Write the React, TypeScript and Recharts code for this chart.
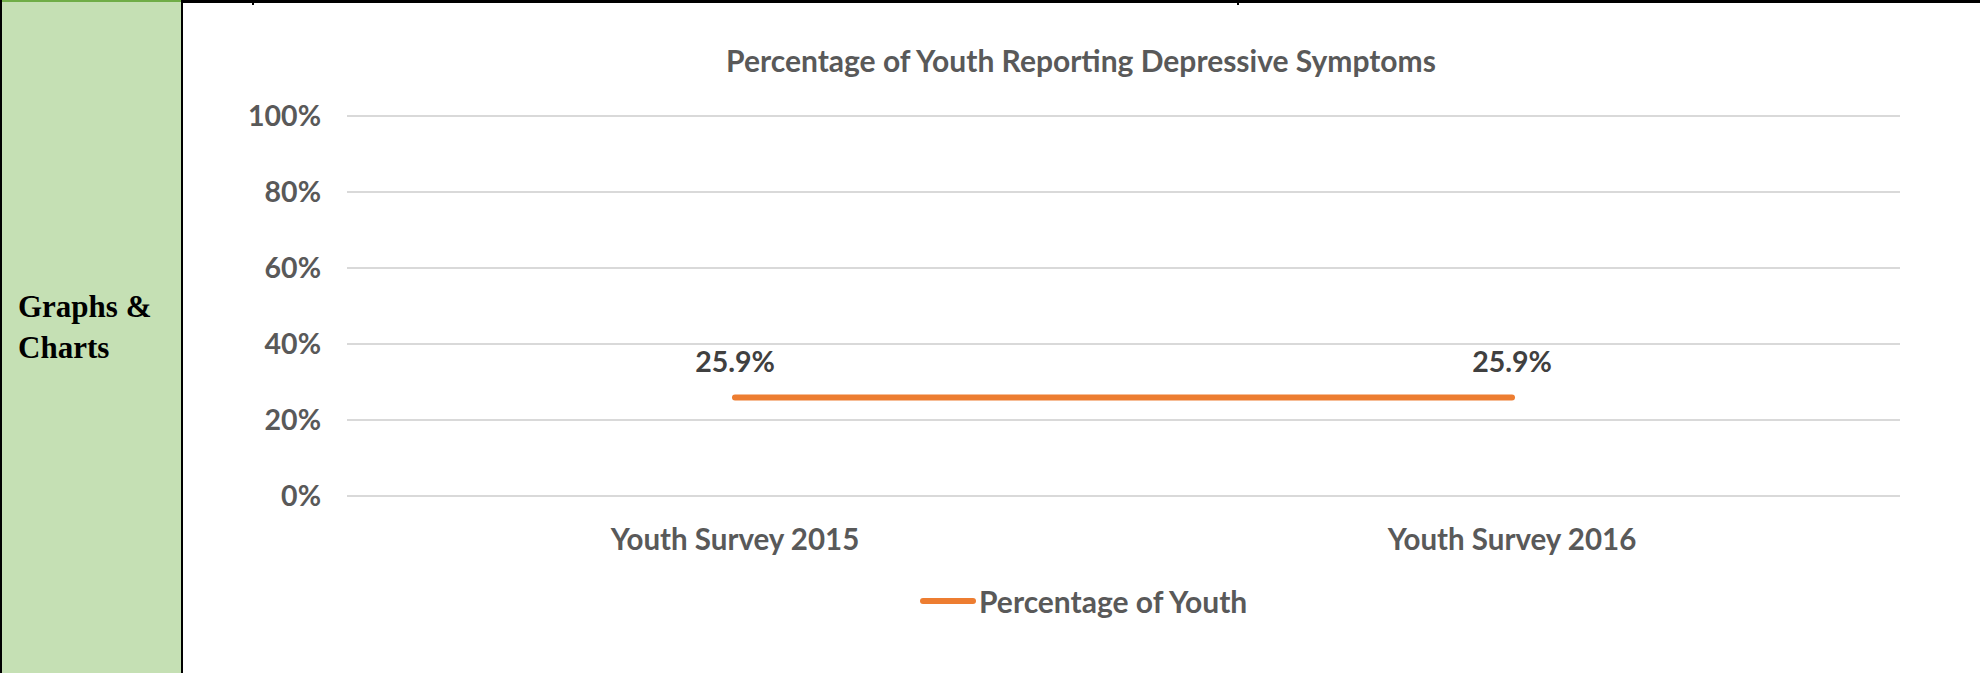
import { LineChart, Line, XAxis, YAxis, CartesianGrid, Legend, LabelList } from 'recharts';

const chartTitle = 'Percentage of Youth Reporting Depressive Symptoms';
const seriesName = 'Percentage of Youth';
const categories = ['Youth Survey 2015', 'Youth Survey 2016'];
const percentageOfYouth = [25.9, 25.9];
const yTicks = [0, 20, 40, 60, 80, 100];

const data = categories.map((c, i) => ({ category: c, value: percentageOfYouth[i] }));

const FONT = 'Lato, "Open Sans", sans-serif';
const ORANGE = '#ED7D31';
const GREY = '#595959';

function LegendContent({ payload }: { payload?: { value: string; color: string }[] }) {
  const item = payload?.[0];
  return (
    <div
      style={{
        display: 'flex',
        alignItems: 'center',
        height: 50,
        paddingLeft: 730,
        fontFamily: FONT,
        fontWeight: 700,
        fontSize: 30,
        color: GREY,
      }}
    >
      <svg width={56} height={10}>
        <line x1={3} y1={5} x2={53} y2={5} stroke={item?.color ?? ORANGE} strokeWidth={6} strokeLinecap="round" />
      </svg>
      <span style={{ marginLeft: 3 }}>{item?.value ?? seriesName}</span>
    </div>
  );
}

export default function App() {
  return (
    <div style={{ position: 'absolute', left: 0, top: 0, width: 1980, height: 673, background: '#fff', overflow: 'hidden' }}>
      {/* left table cell */}
      <div style={{ position: 'absolute', left: 0, top: 0, width: 183, height: 673, background: '#C5E0B4' }} />
      <div style={{ position: 'absolute', left: 0, top: 0, width: 2, height: 673, background: '#000' }} />
      <div style={{ position: 'absolute', left: 181, top: 0, width: 2, height: 673, background: '#000' }} />
      <div style={{ position: 'absolute', left: 2, top: 0, width: 179, height: 2, background: '#70AD47' }} />
      <div style={{ position: 'absolute', left: 183, top: 0, width: 1797, height: 3, background: '#000' }} />
      <div style={{ position: 'absolute', left: 252, top: 0, width: 2, height: 5, background: '#000' }} />
      <div style={{ position: 'absolute', left: 1237, top: 0, width: 2, height: 5, background: '#000' }} />
      <div
        style={{
          position: 'absolute',
          left: 18,
          top: 286,
          fontFamily: '"Liberation Serif", "Times New Roman", serif',
          fontWeight: 700,
          fontSize: 31,
          lineHeight: '41px',
          color: '#000',
        }}
      >
        Graphs &amp;
        <br />
        Charts
      </div>

      {/* chart title */}
      <div
        style={{
          position: 'absolute',
          left: 681,
          top: 43,
          width: 800,
          textAlign: 'center',
          fontFamily: FONT,
          fontWeight: 700,
          fontSize: 30,
          lineHeight: '34px',
          color: GREY,
        }}
      >
        {chartTitle}
      </div>

      <div style={{ position: 'absolute', left: 190, top: 0 }}>
        <LineChart width={1790} height={673} data={data} margin={{ top: 116, right: 80, bottom: 47, left: 0 }}>
          <CartesianGrid vertical={false} stroke="#D9D9D9" strokeWidth={2} />
          <XAxis
            dataKey="category"
            axisLine={false}
            tickLine={false}
            tickSize={0}
            tickMargin={33}
            height={80}
            padding={{ left: 388, right: 388 }}
            tick={{ fill: GREY, fontFamily: FONT, fontWeight: 700, fontSize: 29.5 }}
          />
          <YAxis
            domain={[0, 100]}
            ticks={yTicks}
            width={157}
            axisLine={false}
            tickLine={false}
            tickSize={0}
            tickMargin={26}
            tickFormatter={(v: number) => `${v}%`}
            tick={{ fill: GREY, fontFamily: FONT, fontWeight: 700, fontSize: 28.5 }}
          />
          <Legend verticalAlign="bottom" height={50} wrapperStyle={{ left: 0 }} content={<LegendContent />} />
          <Line
            type="linear"
            dataKey="value"
            name={seriesName}
            stroke={ORANGE}
            strokeWidth={6}
            strokeLinecap="round"
            dot={false}
            activeDot={false}
            isAnimationActive={false}
          >
            <LabelList
              dataKey="value"
              position="top"
              offset={26}
              formatter={(v: number) => `${Number(v).toFixed(1)}%`}
              fill="#404040"
              style={{ fontFamily: FONT, fontWeight: 700, fontSize: 28.5 }}
            />
          </Line>
        </LineChart>
      </div>
    </div>
  );
}
